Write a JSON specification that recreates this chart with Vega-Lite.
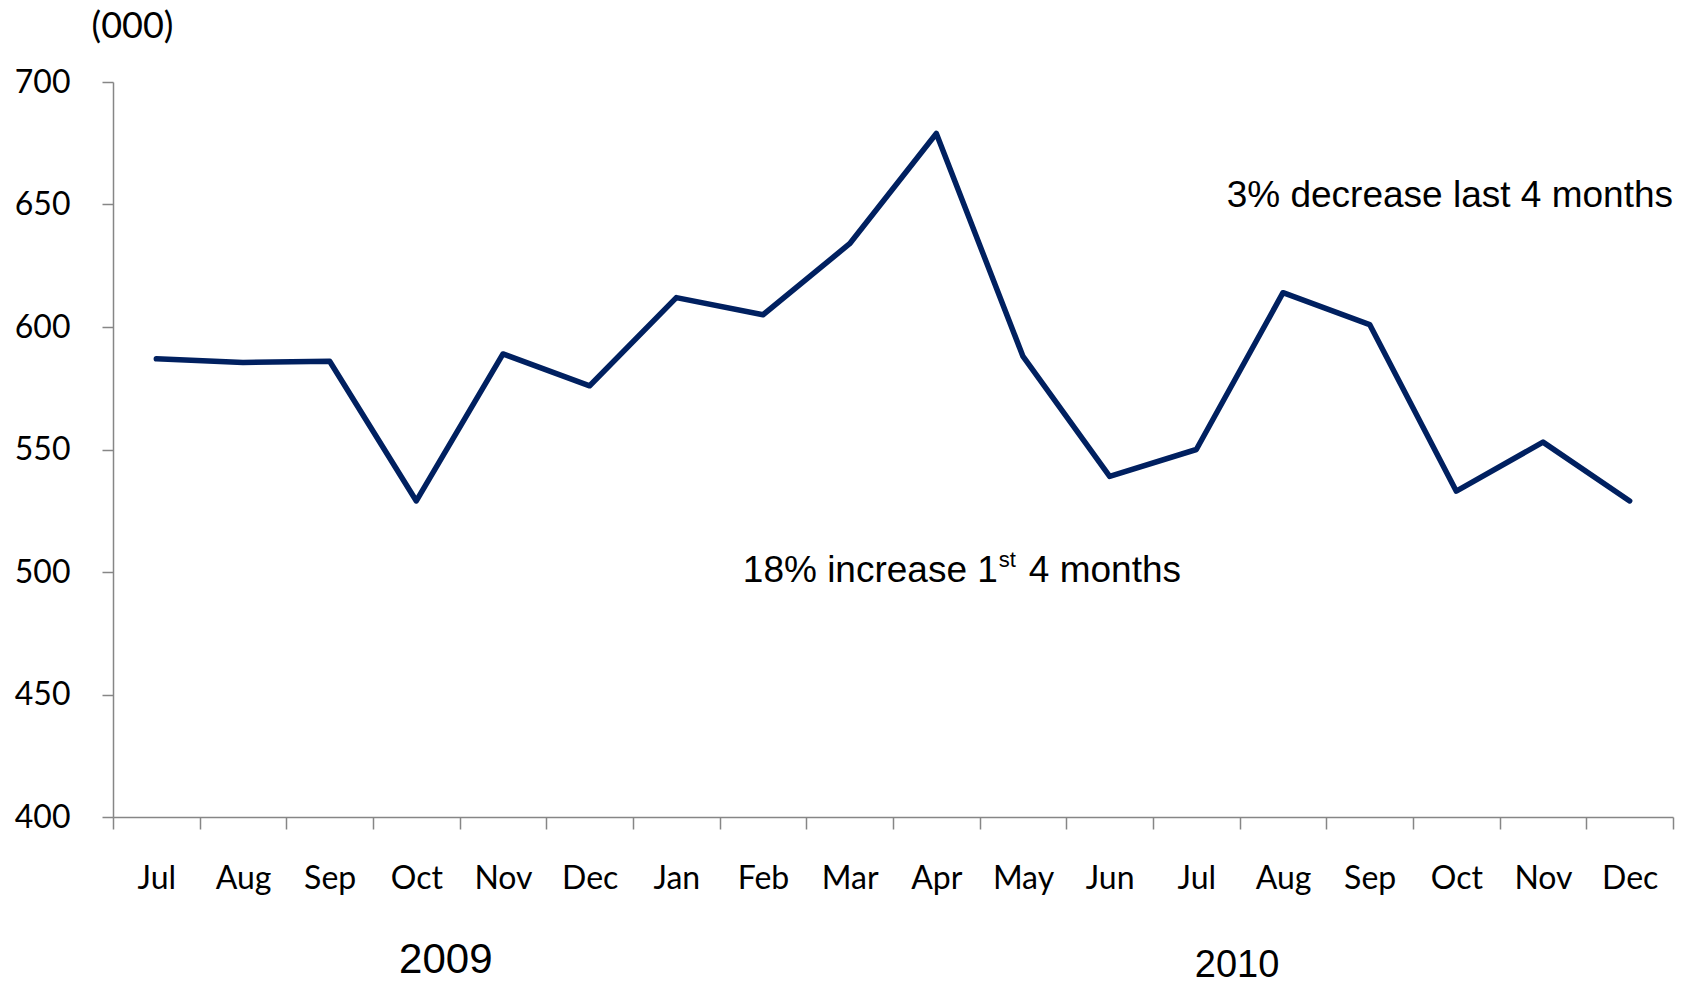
{
  "$schema": "https://vega.github.io/schema/vega-lite/v6.json",
  "width": 1560,
  "height": 735,
  "autosize": {"type": "none"},
  "padding": {"left": 113, "top": 82, "right": 19, "bottom": 168},
  "background": "white",
  "config": {"view": {"stroke": null}, "font": "Lato"},
  "data": {"values": [
    {"kind": "s", "key": "m07a", "value": 587},
    {"kind": "s", "key": "m08a", "value": 585.5},
    {"kind": "s", "key": "m09a", "value": 586},
    {"kind": "s", "key": "m10a", "value": 529},
    {"kind": "s", "key": "m11a", "value": 589},
    {"kind": "s", "key": "m12a", "value": 576},
    {"kind": "s", "key": "m01b", "value": 612},
    {"kind": "s", "key": "m02b", "value": 605},
    {"kind": "s", "key": "m03b", "value": 634},
    {"kind": "s", "key": "m04b", "value": 679},
    {"kind": "s", "key": "m05b", "value": 588},
    {"kind": "s", "key": "m06b", "value": 539},
    {"kind": "s", "key": "m07b", "value": 550},
    {"kind": "s", "key": "m08b", "value": 614},
    {"kind": "s", "key": "m09b", "value": 601},
    {"kind": "s", "key": "m10b", "value": 533},
    {"kind": "s", "key": "m11b", "value": 553},
    {"kind": "s", "key": "m12b", "value": 529},
    {"kind": "dec", "key": "m12b", "value": 649, "label": "3% decrease last 4 months"},
    {"kind": "inc1", "key": "m05b", "value": 495.9, "label": "18% increase 1"},
    {"kind": "inc2", "key": "m05b", "value": 495.9, "label": "st"},
    {"kind": "inc3", "key": "m05b", "value": 495.9, "label": "4 months"},
    {"kind": "y09", "key": "m10a", "value": 336.5, "label": "2009"},
    {"kind": "y10", "key": "m07b", "value": 334.5, "label": "2010"}
  ]},
  "encoding": {
    "x": {
      "field": "key", "type": "ordinal",
      "scale": {"type": "band", "paddingInner": 0, "paddingOuter": 0,
        "domain": ["m07a","m08a","m09a","m10a","m11a","m12a","m01b","m02b","m03b","m04b","m05b","m06b","m07b","m08b","m09b","m10b","m11b","m12b"]},
      "axis": {
        "title": null,
        "labelAngle": 0,
        "labelExpr": "['Jan','Feb','Mar','Apr','May','Jun','Jul','Aug','Sep','Oct','Nov','Dec'][toNumber(substring(datum.value,1,3))-1]",
        "tickBand": "extent",
        "tickSize": 12,
        "tickColor": "#868686",
        "tickWidth": 1.5,
        "domainColor": "#868686",
        "domainWidth": 1.5,
        "labelFont": "Lato",
        "labelFontSize": 32,
        "labelColor": "#000000",
        "labelPadding": 59,
        "labelBaseline": "alphabetic",
        "grid": false
      }
    },
    "y": {
      "field": "value", "type": "quantitative",
      "scale": {"domain": [400, 700], "nice": false, "zero": false},
      "axis": {
        "values": [400, 450, 500, 550, 600, 650, 700],
        "grid": false,
        "domainColor": "#868686",
        "domainWidth": 1.5,
        "tickColor": "#868686",
        "tickWidth": 1.5,
        "tickSize": 11,
        "labelFont": "Lato",
        "labelFontSize": 32,
        "labelColor": "#000000",
        "labelPadding": 32,
        "title": "(000)",
        "titleAngle": 0,
        "titleX": 19,
        "titleY": -45,
        "titleAlign": "center",
        "titleBaseline": "alphabetic",
        "titleFont": "Lato",
        "titleFontSize": 36,
        "titleFontWeight": "normal",
        "titleColor": "#000000"
      }
    }
  },
  "layer": [
    {
      "transform": [{"filter": "datum.kind === 's'"}],
      "mark": {"type": "line", "color": "#002060", "strokeWidth": 5.5, "strokeCap": "round", "strokeJoin": "round"}
    },
    {
      "transform": [{"filter": "datum.kind === 'dec'"}],
      "mark": {"type": "text", "align": "right", "baseline": "alphabetic", "font": "Liberation Sans", "fontSize": 37, "color": "#000000"},
      "encoding": {"x": {"field": "key", "type": "ordinal", "bandPosition": 1}, "text": {"field": "label"}}
    },
    {
      "transform": [{"filter": "datum.kind === 'inc1'"}],
      "mark": {"type": "text", "align": "right", "baseline": "alphabetic", "font": "Liberation Sans", "fontSize": 37, "color": "#000000"},
      "encoding": {"x": {"field": "key", "type": "ordinal", "bandPosition": 0.21}, "text": {"field": "label"}}
    },
    {
      "transform": [{"filter": "datum.kind === 'inc2'"}],
      "mark": {"type": "text", "align": "left", "baseline": "alphabetic", "font": "Liberation Sans", "fontSize": 22, "dx": 1, "dy": -15, "color": "#000000"},
      "encoding": {"x": {"field": "key", "type": "ordinal", "bandPosition": 0.21}, "text": {"field": "label"}}
    },
    {
      "transform": [{"filter": "datum.kind === 'inc3'"}],
      "mark": {"type": "text", "align": "left", "baseline": "alphabetic", "font": "Liberation Sans", "fontSize": 37, "dx": 31, "color": "#000000"},
      "encoding": {"x": {"field": "key", "type": "ordinal", "bandPosition": 0.21}, "text": {"field": "label"}}
    },
    {
      "transform": [{"filter": "datum.kind === 'y09'"}],
      "mark": {"type": "text", "align": "center", "baseline": "alphabetic", "font": "Liberation Sans", "fontSize": 42, "color": "#000000"},
      "encoding": {"x": {"field": "key", "type": "ordinal", "bandPosition": 0.84}, "text": {"field": "label"}}
    },
    {
      "transform": [{"filter": "datum.kind === 'y10'"}],
      "mark": {"type": "text", "align": "center", "baseline": "alphabetic", "font": "Liberation Sans", "fontSize": 38, "color": "#000000"},
      "encoding": {"x": {"field": "key", "type": "ordinal", "bandPosition": 0.97}, "text": {"field": "label"}}
    }
  ]
}
